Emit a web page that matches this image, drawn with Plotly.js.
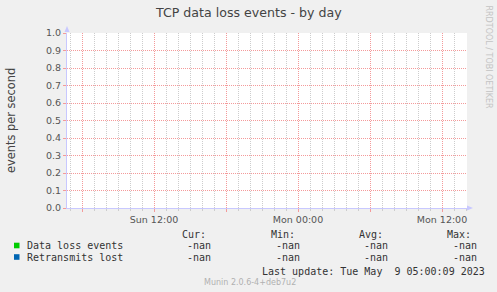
<!DOCTYPE html>
<html>
<head>
<meta charset="utf-8">
<script src="https://cdn.plot.ly/plotly-3.0.1.min.js"></script>
<style>
html,body{margin:0;padding:0;background:#f0f0f0;}
#chart{width:497px;height:292px;}
</style>
</head>
<body>
<div id="chart"></div>
<script>
// ---- data ----
const chartTitle = 'TCP data loss events - by day';
const yTitle = 'events per second';
const seriesNames = ['Data loss events', 'Retransmits lost'];
const seriesColors = ['#00cc00', '#0066b3'];
const seriesTimes = ['2023-05-07 04:45', '2023-05-08 14:05'];
const seriesA = [null, null]; // -nan: no samples
const seriesB = [null, null]; // -nan: no samples
const curVals = ['-nan', '-nan'];
const minVals = ['-nan', '-nan'];
const avgVals = ['-nan', '-nan'];
const maxVals = ['-nan', '-nan'];
const statHeads = ['Cur:', 'Min:', 'Avg:', 'Max:'];
const xRange = ['2023-05-07 04:45', '2023-05-08 14:05'];
const xTickVals = ['2023-05-07 06:00', '2023-05-07 12:00', '2023-05-07 18:00',
                   '2023-05-08 00:00', '2023-05-08 06:00', '2023-05-08 12:00'];
const xTickText = ['', 'Sun 12:00', '', 'Mon 00:00', '', 'Mon 12:00'];
const lastUpdate = 'Last update: Tue May\u00a0\u00a09 05:00:09 2023';
const footer = 'Munin 2.0.6-4+deb7u2';
const sideText = 'RRDTOOL / TOBI OETIKER';

// ---- geometry helpers (pixel -> paper) ----
const L = 67, T = 33, W = 400, H = 175;
const px = p => (p - L) / W;
const py = p => (T + H - p) / H;

const mono = {family: 'DejaVu Sans Mono', size: 10, color: '#333'};
const red = '#f49a9a';
const gray = '#cdcdcd';
const dash = '1px,1px';

const traces = [
  {x: seriesTimes, y: seriesA, type: 'scatter', mode: 'lines', name: seriesNames[0],
   line: {color: seriesColors[0], width: 1}, showlegend: false, hoverinfo: 'skip'},
  {x: seriesTimes, y: seriesB, type: 'scatter', mode: 'lines', name: seriesNames[1],
   xaxis: 'x2', line: {color: seriesColors[1], width: 1}, showlegend: false, hoverinfo: 'skip'}
];

const ann = [];
function txt(text, x, y, anchor, font, extra) {
  ann.push(Object.assign({text: text, xref: 'paper', yref: 'paper', x: px(x), y: py(y),
    xanchor: anchor, yanchor: 'middle', showarrow: false, font: font,
    borderpad: 0, borderwidth: 0}, extra || {}));
}
// title
txt(chartTitle, 248.5, 13, 'center', {family: 'DejaVu Sans', size: 12.6, color: '#444'});
// y title
txt(yTitle, 11, 120, 'center', {family: 'DejaVu Sans', size: 11.4, color: '#444'}, {textangle: -90});
// side text
txt(sideText, 488, 56.5, 'center', {family: 'DejaVu Sans', size: 8, color: '#c4c4c4'}, {textangle: 90});
// legend header
const headLeft = [182, 271, 359, 447];
const valRight = [211, 300, 388, 477];
statHeads.forEach((h, i) => txt(h, headLeft[i], 234, 'left', mono));
const rowsY = [245.5, 257];
const stats = [curVals, minVals, avgVals, maxVals];
seriesNames.forEach((n, r) => {
  txt(n, 27, rowsY[r], 'left', mono);
  stats.forEach((col, c) => txt(col[r], valRight[c], rowsY[r], 'right', mono));
});
txt(lastUpdate, 262, 271, 'left', mono);
txt(footer, 249.5, 282, 'center', {family: 'DejaVu Sans', size: 8, color: '#b0b0b0'});

const shapes = [];
// legend swatches
seriesColors.forEach((c, r) => {
  shapes.push({type: 'rect', xref: 'paper', yref: 'paper',
    x0: px(14), x1: px(19.5), y0: py(rowsY[r] - 2.8), y1: py(rowsY[r] + 2.8),
    fillcolor: c, line: {width: 0}});
});
// axis arrows
shapes.push({type: 'path', xref: 'paper', yref: 'paper', fillcolor: '#c8c8ff', line: {width: 0},
  path: `M ${px(64.5)} ${py(32)} L ${px(69.5)} ${py(32)} L ${px(67)} ${py(26)} Z`});
shapes.push({type: 'path', xref: 'paper', yref: 'paper', fillcolor: '#c8c8ff', line: {width: 0},
  path: `M ${px(467)} ${py(205.5)} L ${px(467)} ${py(210.5)} L ${px(473)} ${py(208)} Z`});

const tickFont = {family: 'DejaVu Sans', size: 9.5, color: '#555'};
const layout = {
  width: 497, height: 292,
  margin: {l: L, r: 497 - L - W, t: T, b: 292 - T - H, pad: 0},
  paper_bgcolor: '#f0f0f0', plot_bgcolor: '#ffffff',
  showlegend: false,
  xaxis: {
    type: 'date', range: xRange, fixedrange: true,
    tickmode: 'linear', dtick: 3600000, tick0: '2023-05-07 00:00',
    showticklabels: false,
    showgrid: true, gridcolor: gray, griddash: dash, gridwidth: 1,
    ticks: 'outside', ticklen: 2, tickcolor: gray, tickwidth: 1,
    showline: true, linecolor: '#c8c8ff', linewidth: 1,
    zeroline: false
  },
  xaxis2: {
    type: 'date', range: xRange, fixedrange: true, overlaying: 'x', side: 'bottom',
    tickmode: 'array', tickvals: xTickVals, ticktext: xTickText,
    showgrid: true, gridcolor: red, griddash: dash, gridwidth: 1,
    ticks: 'outside', ticklen: 3, tickcolor: red, tickwidth: 1,
    tickfont: tickFont,
    showline: false, zeroline: false
  },
  yaxis: {
    range: [0, 1], fixedrange: true, dtick: 0.1, tick0: 0, tickformat: '.1f',
    showgrid: true, gridcolor: red, griddash: dash, gridwidth: 1,
    ticks: 'outside', ticklen: 3, tickcolor: red, tickwidth: 1,
    tickfont: tickFont,
    showline: true, linecolor: '#c8c8ff', linewidth: 1,
    zeroline: false
  },
  annotations: ann,
  shapes: shapes
};

Plotly.newPlot('chart', traces, layout, {staticPlot: true, displayModeBar: false});
</script>
</body>
</html>
